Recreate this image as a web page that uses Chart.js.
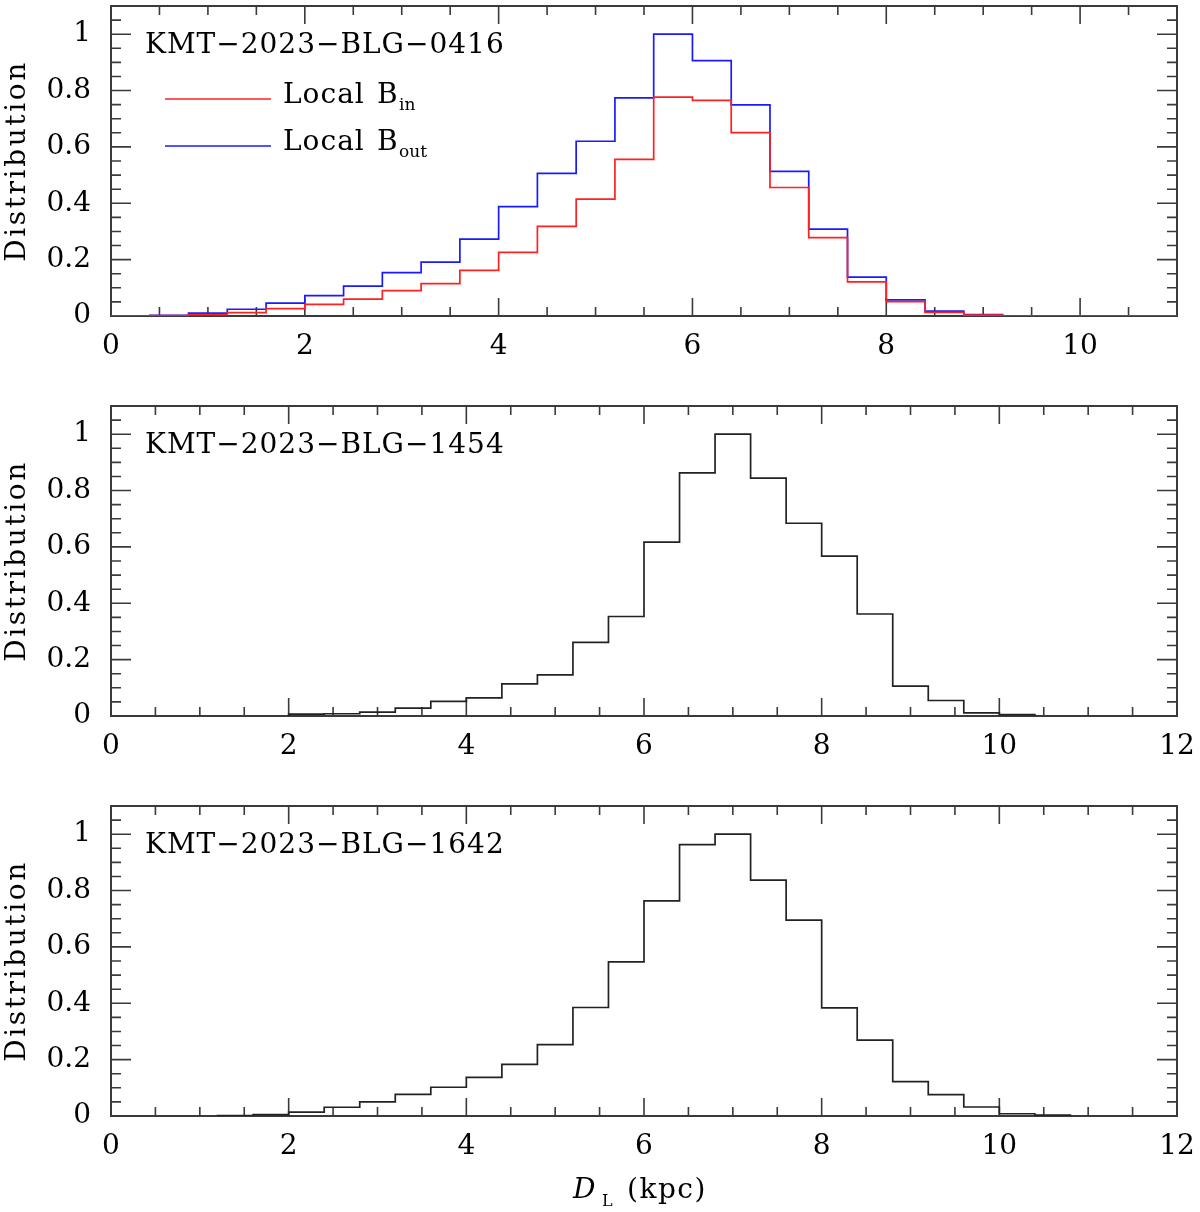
<!DOCTYPE html>
<html>
<head>
<meta charset="utf-8">
<script src="https://cdn.jsdelivr.net/npm/chart.js@4.4.1/dist/chart.umd.min.js"></script>
<style>
  body { margin: 0; background: #fff; }
  .panel { position: absolute; left: 0; width: 1200px; }
</style>
</head>
<body>
<div class="panel" style="top:0;height:400px"><canvas id="c0416"></canvas></div>
<div class="panel" style="top:400px;height:400px"><canvas id="c1454"></canvas></div>
<div class="panel" style="top:800px;height:412px"><canvas id="c1642"></canvas></div>
<script>
// histogram bins: lower edge of each bin (kpc), all bins 0.4 kpc wide
const binWidth = 0.4;

const bins0416 = [0.0, 0.4, 0.8, 1.2, 1.6, 2.0, 2.4, 2.8, 3.2, 3.6, 4.0, 4.4, 4.8, 5.2,
                  5.6, 6.0, 6.4, 6.8, 7.2, 7.6, 8.0, 8.4, 8.8, 9.2, 9.6, 10.0, 10.4, 10.8];
const localBin = [0, 0.001, 0.005, 0.012, 0.026, 0.041, 0.060, 0.090, 0.115, 0.162, 0.226, 0.318, 0.415, 0.556,
                  0.777, 0.765, 0.651, 0.456, 0.278, 0.121, 0.051, 0.013, 0.003, 0, 0, 0, 0, 0];
const localBout = [0, 0.002, 0.010, 0.024, 0.046, 0.072, 0.106, 0.154, 0.191, 0.273, 0.388, 0.506, 0.620, 0.774,
                   1.000, 0.906, 0.749, 0.513, 0.308, 0.138, 0.057, 0.017, 0.005, 0, 0, 0, 0, 0];

const bins1454 = [2.0, 2.4, 2.8, 3.2, 3.6, 4.0, 4.4, 4.8, 5.2, 5.6, 6.0, 6.4, 6.8, 7.2,
                  7.6, 8.0, 8.4, 8.8, 9.2, 9.6, 10.0];
const dist1454 = [0.007, 0.008, 0.014, 0.028, 0.052, 0.064, 0.114, 0.146, 0.261, 0.353, 0.617, 0.863, 1.000, 0.844,
                  0.684, 0.567, 0.362, 0.106, 0.055, 0.011, 0.005];

const bins1642 = [1.2, 1.6, 2.0, 2.4, 2.8, 3.2, 3.6, 4.0, 4.4, 4.8, 5.2, 5.6, 6.0, 6.4,
                  6.8, 7.2, 7.6, 8.0, 8.4, 8.8, 9.2, 9.6, 10.0, 10.4];
const dist1642 = [0.001, 0.005, 0.014, 0.031, 0.050, 0.077, 0.102, 0.137, 0.183, 0.253, 0.385, 0.547, 0.763, 0.963,
                  1.000, 0.837, 0.695, 0.384, 0.269, 0.122, 0.076, 0.032, 0.008, 0.003];

const xTicks11 = [0, 2, 4, 6, 8, 10];
const xTicks12 = [0, 2, 4, 6, 8, 10, 12];
const yTicks = [0, 0.2, 0.4, 0.6, 0.8, 1];

const FONT = '"DejaVu Serif", serif';
Chart.defaults.font.family = FONT;
Chart.defaults.font.size = 28;
Chart.defaults.color = '#000';

// step outline of a histogram: rise at first edge, flat tops, drop after last bin
function stepPoints(lo, vals) {
  const pts = [{ x: lo[0], y: 0 }];
  lo.forEach((x, i) => pts.push({ x: x, y: vals[i] }));
  pts.push({ x: lo[lo.length - 1] + binWidth, y: 0 });
  return pts;
}

const panelDeco = {
  id: 'panelDeco',
  beforeDatasetsDraw(chart, args, opts) {
    const { ctx, chartArea: a, scales: { x, y } } = chart;
    ctx.save();
    ctx.strokeStyle = '#3a3a3a';
    ctx.lineWidth = 2;
    ctx.strokeRect(a.left, a.top, a.right - a.left, a.bottom - a.top);

    ctx.lineWidth = 1.6;
    ctx.beginPath();
    for (let k = 0; k * 0.5 <= x.max + 1e-9; k++) {
      const px = x.getPixelForValue(k * 0.5);
      const len = k % 4 === 0 ? 18 : 9;
      ctx.moveTo(px, a.bottom); ctx.lineTo(px, a.bottom - len);
      ctx.moveTo(px, a.top); ctx.lineTo(px, a.top + len);
    }
    for (let k = 0; k * 0.05 <= y.max + 1e-9; k++) {
      const py = y.getPixelForValue(k * 0.05);
      const len = k % 4 === 0 ? 20 : 10;
      ctx.moveTo(a.left, py); ctx.lineTo(a.left + len, py);
      ctx.moveTo(a.right, py); ctx.lineTo(a.right - len, py);
    }
    ctx.stroke();
    ctx.restore();
  },
  afterDraw(chart, args, opts) {
    const { ctx, chartArea: a } = chart;
    ctx.save();
    ctx.fillStyle = '#000';
    ctx.textBaseline = 'alphabetic';
    ctx.textAlign = 'left';
    ctx.font = '28px ' + FONT;
    ctx.letterSpacing = '1px';
    ctx.fillText(opts.label, a.left + 34, a.top + 47);

    (opts.legend || []).forEach(item => {
      ctx.strokeStyle = item.color;
      ctx.lineWidth = 1.7;
      ctx.beginPath();
      ctx.moveTo(a.left + 54, a.top + item.dy);
      ctx.lineTo(a.left + 160, a.top + item.dy);
      ctx.stroke();
      ctx.font = '28px ' + FONT;
      ctx.letterSpacing = '1px';
      ctx.fillText('Local', a.left + 172, a.top + item.dy + 4);
      ctx.fillText('B', a.left + 266, a.top + item.dy + 4);
      ctx.font = '17px ' + FONT;
      ctx.letterSpacing = '0px';
      ctx.fillText(item.sub, a.left + 288, a.top + item.dy + 11);
    });

    // y axis title
    ctx.save();
    ctx.translate(18, (a.top + a.bottom) / 2);
    ctx.rotate(-Math.PI / 2);
    ctx.textAlign = 'center';
    ctx.textBaseline = 'middle';
    ctx.font = '28px ' + FONT;
    ctx.letterSpacing = '2.6px';
    ctx.fillText('Distribution', 0, 0);
    ctx.restore();

    if (opts.xTitle) {
      const base = a.bottom + 82;
      ctx.letterSpacing = '0px';
      ctx.font = 'italic 28px ' + FONT;
      ctx.fillText('D', a.left + 462, base);
      ctx.font = '16px ' + FONT;
      ctx.fillText('L', a.left + 491, base + 8);
      ctx.font = '28px ' + FONT;
      ctx.letterSpacing = '1.5px';
      ctx.fillText('(kpc)', a.left + 516, base);
    }
    ctx.restore();
  }
};

function makePanel(id, xMax, xTicks, datasets, deco, panelH) {
  new Chart(document.getElementById(id), {
    type: 'line',
    data: { datasets: datasets },
    options: {
      responsive: true,
      maintainAspectRatio: false,
      animation: false,
      events: [],
      layout: { padding: { top: 6, right: 23, bottom: 0, left: 0 } },
      elements: { point: { radius: 0 }, line: { tension: 0 } },
      scales: {
        x: {
          type: 'linear', min: 0, max: xMax,
          grid: { display: false, drawTicks: false },
          border: { display: false },
          ticks: { padding: 14, maxRotation: 0, callback: v => String(v) },
          afterBuildTicks: s => { s.ticks = xTicks.map(v => ({ value: v })); },
          afterFit: s => { s.height = panelH - 316; s.paddingLeft = 0; s.paddingRight = 0; }
        },
        y: {
          type: 'linear', min: 0, max: 1.1,
          grid: { display: false, drawTicks: false },
          border: { display: false },
          ticks: { padding: 20, callback: v => String(v) },
          afterBuildTicks: s => { s.ticks = yTicks.map(v => ({ value: v })); },
          afterFit: s => { s.width = 111; s.paddingTop = 0; s.paddingBottom = 0; }
        }
      },
      plugins: {
        legend: { display: false },
        tooltip: { enabled: false },
        panelDeco: deco
      }
    },
    plugins: [panelDeco]
  });
}

function histSet(lo, vals, color) {
  return { data: stepPoints(lo, vals), stepped: 'before', borderColor: color,
           borderWidth: 1.7, fill: false };
}

makePanel('c0416', 11, xTicks11, [
  histSet(bins0416, localBin, '#ff2020'),
  histSet(bins0416, localBout, '#1a1aff')
], {
  label: 'KMT\u22122023\u2212BLG\u22120416',
  legend: [
    { color: '#ff2020', sub: 'in', dy: 93 },
    { color: '#1a1aff', sub: 'out', dy: 140 }
  ]
}, 400);

makePanel('c1454', 12, xTicks12, [histSet(bins1454, dist1454, '#222')],
  { label: 'KMT\u22122023\u2212BLG\u22121454' }, 400);

makePanel('c1642', 12, xTicks12, [histSet(bins1642, dist1642, '#222')],
  { label: 'KMT\u22122023\u2212BLG\u22121642', xTitle: true }, 412);
</script>
</body>
</html>
